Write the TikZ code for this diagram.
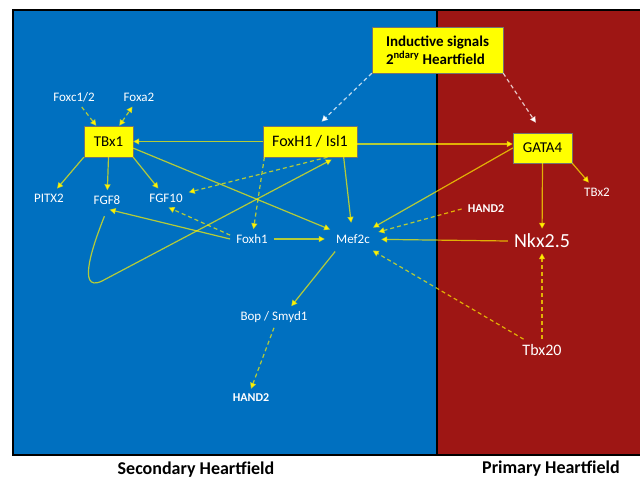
\documentclass[tikz,border=0pt]{standalone}
\usepackage{fontspec}
\setmainfont{Carlito}
\usetikzlibrary{arrows.meta,shapes.geometric,calc}
\definecolor{bgblue}{RGB}{0,112,192}
\definecolor{bgred}{RGB}{158,22,20}
\definecolor{boxyellow}{RGB}{255,255,0}
\begin{document}
\begin{tikzpicture}[x=1pt,y=-1pt,
  >={Triangle[length=6pt,width=6pt]},
  ybox/.style={draw=black!55, line width=0.4pt, fill=boxyellow, text=black, inner sep=0pt, font=\fontsize{15}{17}\selectfont},
  lbl/.style={text=white, font=\fontsize{13}{15}\selectfont, inner xsep=6pt, inner ysep=5pt},
  blbl/.style={lbl, font=\bfseries\fontsize{12}{14}\selectfont},
  arr/.style={draw=yellow, draw opacity=0.7, line width=1.2pt, ->},
  darr/.style={arr, dash pattern=on 4pt off 3pt},
  warr/.style={draw=white, draw opacity=0.75, line width=1.2pt, dash pattern=on 4pt off 3pt, ->},
  field/.style={text=black, font=\bfseries\fontsize{18}{20}\selectfont}
]
\useasboundingbox (0,0) rectangle (640,480);
\fill[white] (0,0) rectangle (640,480);
\fill[bgblue] (13,10) rectangle (437,455);
\fill[bgred] (437,10) rectangle (645,455);
\draw[line width=2pt] (13,10) rectangle (645,455);
\draw[line width=2pt] (437,10) -- (437,455);

% boxes
\node[ybox, minimum width=131pt, minimum height=46pt, font=\bfseries\fontsize{15}{18}\selectfont, align=left] (ind) at (437.5,50) {Inductive signals\\2\textsuperscript{ndary} Heartfield};
\node[ybox, minimum width=49pt, minimum height=31pt] (tbx1) at (108.5,141.5) {TBx1};
\node[ybox, minimum width=94pt, minimum height=31pt, font=\fontsize{16}{18}\selectfont] (foxisl) at (310,141.5) {FoxH1 / Isl1};
\node[ybox, minimum width=59pt, minimum height=30pt] (gata4) at (542.5,148) {GATA4};

% labels
\node[lbl] (foxc) at (74,97) {Foxc1/2};
\node[lbl] (foxa) at (139,97) {Foxa2};
\node[lbl] (pitx) at (49,198) {PITX2};
\node[lbl] (fgf8) at (107,200) {FGF8};
\node[lbl] (fgf10) at (166,198) {FGF10};
\node[lbl] (foxh1) at (252,239) {Foxh1};
\node[lbl, ellipse, inner sep=0pt, minimum width=56pt, minimum height=32pt] (mef2c) at (353,239) {Mef2c};
\node[blbl] (hand2r) at (486,209) {HAND2};
\node[lbl, font=\fontsize{20}{22}\selectfont] (nkx) at (542,241) {Nkx2.5};
\node[lbl] (tbx2) at (597,192) {TBx2};
\node[lbl] (bop) at (274,317) {Bop / Smyd1};
\node[blbl] (hand2b) at (251,398) {HAND2};
\node[lbl, font=\fontsize{16}{18}\selectfont] (tbx20) at (542,350) {Tbx20};

\node[field] (sec) at (196,470) {Secondary Heartfield};
\node[field] (prim) at (551,469) {Primary Heartfield};

% connectors
\draw[darr] (foxc) -- (tbx1);
\draw[darr, <->] (tbx1) -- (foxa);
\draw[arr] (foxisl.west) -- (tbx1.east);
\draw[arr] (tbx1.south west) -- (pitx);
\draw[arr] (tbx1.south) -- (fgf8);
\draw[arr] (tbx1.south east) -- (fgf10);
\draw[arr] (tbx1.-15) -- (mef2c);
\draw[darr] (foxisl.-42) -- (fgf10);
\draw[darr] (foxisl.-161) -- (foxh1);
\draw[arr] (foxisl.-25) -- (mef2c);
\draw[arr] (foxisl.-3) -- (foxisl.-3 -| gata4.west);
\draw[arr, shorten <=7pt, shorten >=5pt] (fgf8.south) .. controls (95,240) and (75,294) .. (102,281) -- (foxisl.-31);
\draw[arr] (foxh1.west) -- (fgf8.-75);
\draw[darr] (foxh1.170) -- (fgf10.-75);
\draw[arr] (foxh1.east) -- (mef2c);
\draw[arr] (gata4.west) -- (mef2c);
\draw[darr] (hand2r.west) -- (mef2c);
\draw[arr] (nkx.west) -- (mef2c);
\draw[darr] (tbx20) -- (mef2c);
\draw[darr] (tbx20) -- (nkx);
\draw[arr] (gata4.south) -- (nkx);
\draw[arr] (gata4.south east) -- (tbx2);
\draw[arr] (mef2c.-145) -- (bop.32);
\draw[darr] (bop.south) -- (hand2b.north);
\draw[warr, shorten >=6pt] (ind.south west) -- (foxisl.65);
\draw[warr, shorten >=12pt] (ind.south east) -- (gata4.north);
\end{tikzpicture}
\end{document}
